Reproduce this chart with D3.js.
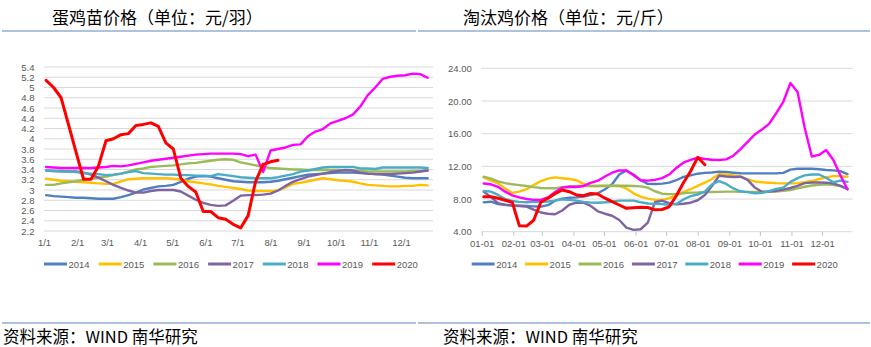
<!DOCTYPE html>
<html><head><meta charset="utf-8">
<script src="https://cdn.jsdelivr.net/npm/d3@7"></script>
<style>html,body{margin:0;padding:0;background:#fff;} svg{display:block;}</style>
</head><body>
<svg id="c" width="871" height="347"></svg>
<script>
// ---------- data ----------
const weeks = ["01-03","01-10","01-17","01-24","01-31","02-07","02-14","02-21","02-28","03-07","03-14","03-21","03-28",
  "04-04","04-11","04-18","04-25","05-02","05-09","05-16","05-23","05-30","06-06","06-13","06-20","06-27",
  "07-04","07-11","07-18","07-25","08-01","08-08","08-15","08-22","08-29","09-05","09-12","09-19","09-26",
  "10-03","10-10","10-17","10-24","10-31","11-07","11-14","11-21","11-28","12-05","12-12","12-19","12-26"];
const seriesNames = ["2014","2015","2016","2017","2018","2019","2020"];

// 蛋鸡苗价格 (元/羽)
const chick2014 = [2.9,2.88,2.87,2.86,2.85,2.85,2.84,2.83,2.83,2.83,2.86,2.9,2.95,3.01,3.04,3.07,3.08,3.1,3.16,3.22,3.26,3.27,3.26,3.23,3.2,3.17,3.16,3.15,3.15,3.15,3.16,3.18,3.21,3.24,3.27,3.3,3.31,3.32,3.33,3.34,3.34,3.34,3.33,3.32,3.31,3.3,3.28,3.26,3.24,3.23,3.23,3.23];
const chick2015 = [3.22,3.2,3.18,3.17,3.16,3.15,3.14,3.13,3.12,3.12,3.17,3.21,3.22,3.23,3.23,3.23,3.23,3.22,3.2,3.17,3.15,3.13,3.11,3.08,3.06,3.04,3.02,2.99,2.98,2.98,2.98,2.99,3.05,3.12,3.14,3.17,3.2,3.23,3.21,3.19,3.18,3.16,3.13,3.1,3.09,3.08,3.07,3.07,3.08,3.08,3.1,3.09];
const chick2016 = [3.1,3.1,3.13,3.15,3.17,3.2,3.22,3.24,3.26,3.29,3.32,3.36,3.4,3.42,3.45,3.46,3.47,3.48,3.5,3.52,3.53,3.55,3.57,3.59,3.6,3.59,3.54,3.51,3.48,3.45,3.43,3.42,3.41,3.4,3.4,3.39,3.39,3.39,3.39,3.39,3.38,3.38,3.37,3.36,3.36,3.36,3.36,3.36,3.36,3.37,3.37,3.38];
const chick2017 = [3.38,3.37,3.37,3.36,3.36,3.34,3.3,3.24,3.17,3.1,3.04,2.99,2.95,2.95,2.98,3.0,3.0,3.0,2.97,2.89,2.81,2.75,2.71,2.69,2.7,2.79,2.89,2.9,2.9,2.91,2.93,2.99,3.08,3.16,3.21,3.26,3.29,3.32,3.35,3.37,3.39,3.38,3.34,3.32,3.31,3.31,3.31,3.32,3.33,3.34,3.36,3.38];
const chick2018 = [3.38,3.37,3.36,3.36,3.35,3.33,3.32,3.31,3.29,3.3,3.32,3.35,3.37,3.33,3.32,3.31,3.3,3.3,3.29,3.29,3.28,3.28,3.27,3.31,3.29,3.27,3.25,3.24,3.23,3.23,3.23,3.25,3.28,3.31,3.36,3.38,3.41,3.44,3.45,3.45,3.45,3.45,3.42,3.42,3.41,3.44,3.44,3.44,3.44,3.44,3.44,3.43];
const chick2019 = [3.45,3.44,3.43,3.43,3.43,3.43,3.43,3.44,3.45,3.47,3.46,3.48,3.51,3.54,3.57,3.59,3.61,3.63,3.65,3.67,3.69,3.7,3.71,3.71,3.71,3.71,3.7,3.66,3.69,3.35,3.77,3.8,3.83,3.88,3.89,4.05,4.14,4.19,4.3,4.35,4.4,4.47,4.63,4.85,5.0,5.17,5.21,5.23,5.24,5.27,5.26,5.19];
const chick2020 = [5.14,5.0,4.8,null,null,3.21,3.21,3.47,3.96,4.0,4.08,4.1,4.26,4.28,4.31,4.24,3.92,3.8,3.23,3.07,2.96,2.58,2.58,2.46,2.43,2.33,2.26,2.5,3.17,3.5,3.55,3.58,
  null,null,null,null,null,null,null,null,null,null,null,null,null,null,null,null,null,null,null,null];

// 淘汰鸡价格 (元/斤)
const hen2014 = [7.59,7.67,7.39,7.3,7.2,7.18,7.14,7.1,7.06,7.25,7.8,8.05,8.15,8.2,8.3,8.48,8.7,9.2,9.8,11.0,11.5,11.0,10.3,9.85,9.84,9.88,10.0,10.3,10.7,10.9,11.1,11.2,11.25,11.35,11.3,11.22,11.15,11.14,11.14,11.14,11.14,11.14,11.2,11.6,11.7,11.71,11.71,11.65,11.55,11.5,11.4,11.06];
const hen2015 = [10.65,10.25,9.92,9.3,8.75,8.9,9.2,9.7,10.2,10.5,10.65,10.55,10.45,10.3,9.85,9.6,9.59,9.59,9.59,9.59,9.3,8.7,8.3,8.05,7.9,7.88,8.1,8.45,8.85,9.2,9.6,10.0,10.45,11.05,11.0,10.9,10.75,10.4,10.15,10.05,10.0,9.95,9.92,9.92,9.95,10.05,10.2,10.45,10.65,10.8,10.8,10.73];
const hen2016 = [10.73,10.5,10.15,9.95,9.8,9.7,9.6,9.45,9.35,9.31,9.31,9.45,9.55,9.59,9.59,9.59,9.6,9.62,9.63,9.63,9.62,9.6,9.55,9.4,8.95,8.65,8.6,8.62,8.7,8.78,8.8,8.85,8.86,8.88,8.9,8.9,8.88,8.88,8.87,8.86,8.88,8.9,9.0,9.1,9.3,9.5,9.65,9.75,9.8,9.75,9.6,9.2];
const hen2017 = [8.9,8.25,7.5,7.28,7.2,7.14,7.08,6.7,6.35,6.2,6.13,6.6,7.3,7.55,7.55,7.15,6.5,6.2,5.95,5.43,4.5,4.22,4.3,5.1,7.6,7.8,7.5,7.35,7.42,7.55,7.85,8.5,9.6,10.85,10.75,10.7,10.73,10.35,9.4,8.9,8.92,9.0,9.15,9.35,9.6,9.95,10.02,10.04,10.0,9.9,9.6,9.25];
const hen2018 = [8.98,8.9,8.5,8.0,7.75,7.65,7.6,7.65,7.67,7.7,7.8,7.95,7.9,7.8,7.65,7.56,7.55,7.6,7.67,7.8,7.8,7.8,7.6,7.45,7.4,7.39,7.3,7.4,7.95,8.35,8.55,8.9,9.8,10.2,9.85,9.3,8.95,8.85,8.7,8.75,8.95,9.25,9.4,10.1,10.55,10.9,11.0,11.0,10.6,10.05,10.25,10.1];
const hen2019 = [9.9,9.8,9.5,8.9,8.45,8.2,8.0,7.9,7.88,8.2,8.85,9.4,9.5,9.47,9.6,9.98,10.24,10.75,11.22,11.5,11.5,10.9,10.3,10.25,10.35,10.55,11.0,11.8,12.45,12.8,13.05,12.9,12.8,12.78,12.85,13.3,14.1,15.0,15.9,16.5,17.2,18.5,19.9,22.2,21.1,16.7,13.2,13.4,14.0,12.8,10.9,9.2];
const hen2020 = [8.29,8.29,8.1,7.85,7.6,4.72,4.69,5.4,7.6,8.1,8.65,9.1,8.9,8.49,8.4,8.69,8.61,8.1,7.68,7.27,6.86,6.94,6.98,6.96,6.68,6.72,7.05,8.4,10.0,11.4,13.1,12.2,
  null,null,null,null,null,null,null,null,null,null,null,null,null,null,null,null,null,null,null,null];

const chickYTicks = [2.2,2.4,2.6,2.8,3.0,3.2,3.4,3.6,3.8,4.0,4.2,4.4,4.6,4.8,5.0,5.2,5.4];
const henYTicks = [4,8,12,16,20,24];
const chickXLabels = ["1/1","2/1","3/1","4/1","5/1","6/1","7/1","8/1","9/1","10/1","11/1","12/1"];
const henXLabels = ["01-01","02-01","03-01","04-01","05-01","06-01","07-01","08-01","09-01","10-01","11-01","12-01"];
const titles = ["蛋鸡苗价格（单位：元/羽）", "淘汰鸡价格（单位：元/斤）"];
const sourceText = "资料来源：WIND 南华研究";

// ---------- styles ----------
const colors = ["#4F7FC0","#FFC000","#9BBB59","#8064A2","#4BACC6","#FF00FF","#FF0000"];
const gridColor = "#D9D9D9";
const labelColor = "#595959";
const labelFont = "'Liberation Sans', Arial, sans-serif";

const parse = d3.timeParse("%m-%d");
const weekDates = weeks.map(parse);
const monthStarts = d3.range(12).map(m => new Date(1900, m, 1));
const svg = d3.select("#c");

function drawPanel(cfg) {
  const x = d3.scaleTime().domain([parse("01-01"), parse("12-31")]).range([cfg.x0, cfg.x1]);
  const y = d3.scaleLinear().domain(cfg.yDomain).range([cfg.yBottom, cfg.yTop]);
  const g = svg.append("g");

  // gridlines
  g.append("g").selectAll("line").data(cfg.yTicks).join("line")
    .attr("x1", cfg.x0).attr("x2", cfg.x1)
    .attr("y1", d => y(d)).attr("y2", d => y(d))
    .attr("stroke", gridColor).attr("stroke-width", 1);

  // y axis labels
  const ya = g.append("g").attr("transform", `translate(${cfg.x0},0)`)
    .call(d3.axisLeft(y).tickValues(cfg.yTicks).tickSize(0).tickPadding(cfg.yPad).tickFormat(cfg.yFmt));
  ya.select(".domain").remove();
  ya.selectAll("text").attr("fill", labelColor).style("font-family", labelFont).style("font-size", "9.5px");

  // x axis
  const xa = g.append("g").attr("transform", `translate(0,${cfg.yBottom})`)
    .call(d3.axisBottom(x).tickValues(monthStarts).tickSize(cfg.xTick).tickPadding(cfg.xPad)
      .tickFormat((d, i) => cfg.xLabels[i]));
  xa.select(".domain").remove();
  xa.selectAll("line").attr("stroke", cfg.xTick ? "#BFBFBF" : "none");
  xa.selectAll("text").attr("fill", labelColor).style("font-family", labelFont).style("font-size", "9.5px");

  // series
  const line = d3.line().x(d => x(d.date)).y(d => y(d.v)).curve(d3.curveLinear);
  cfg.series.forEach((vals, si) => {
    const pts = weekDates.map((date, i) => ({date, v: vals[i]})).filter(d => d.v !== null);
    g.append("path").datum(pts).attr("d", line)
      .attr("fill", "none").attr("stroke", colors[si])
      .attr("stroke-width", si === 6 ? 3 : 2.4)
      .attr("stroke-linejoin", "round").attr("stroke-linecap", "round");
  });

  // legend
  const lg = g.append("g").attr("transform", `translate(${cfg.legX},${cfg.legY})`);
  seriesNames.forEach((name, i) => {
    const e = lg.append("g").attr("transform", `translate(${i * cfg.legStep},0)`);
    e.append("line").attr("x1", 0).attr("x2", 23).attr("y1", 0).attr("y2", 0)
      .attr("stroke", colors[i]).attr("stroke-width", 3);
    e.append("text").attr("x", 24.5).attr("y", 3.5).text(name)
      .attr("fill", labelColor).style("font-family", labelFont).style("font-size", "9.5px");
  });

  // title
  svg.append("text").attr("x", cfg.titleX).attr("y", 23.5).text(cfg.title)
    .attr("fill", "#000").style("font-family", "'Noto Sans CJK SC', sans-serif").style("font-size", "17px");
  // source
  svg.append("text").attr("x", cfg.srcX).attr("y", 342.5).text(sourceText)
    .attr("fill", "#000").style("font-family", "'Noto Sans CJK SC', sans-serif").style("font-size", "16.5px");
}

// rules
[[2, 416], [418, 870]].forEach(([a, b]) => {
  [31, 323].forEach(yy => {
    svg.append("line").attr("x1", a).attr("x2", b).attr("y1", yy).attr("y2", yy)
      .attr("stroke", "#5A86C2").attr("stroke-width", 1.2);
  });
});

drawPanel({
  x0: 44, x1: 433, yTop: 67, yBottom: 231, yDomain: [2.2, 5.4], yTicks: chickYTicks,
  yFmt: d => String(+d.toFixed(1)), yPad: 9.5, xTick: 0, xPad: 8.6, xLabels: chickXLabels,
  series: [chick2014, chick2015, chick2016, chick2017, chick2018, chick2019, chick2020],
  legX: 44, legY: 264, legStep: 54.7, title: titles[0], titleX: 52, srcX: 3
});
drawPanel({
  x0: 481.7, x1: 852.6, yTop: 68.3, yBottom: 231.7, yDomain: [4, 24], yTicks: henYTicks,
  yFmt: d => d.toFixed(2), yPad: 10, xTick: 4, xPad: 4.5, xLabels: henXLabels,
  series: [hen2014, hen2015, hen2016, hen2017, hen2018, hen2019, hen2020],
  legX: 471.7, legY: 264, legStep: 53.4, title: titles[1], titleX: 463, srcX: 443
});
</script>
</body></html>
